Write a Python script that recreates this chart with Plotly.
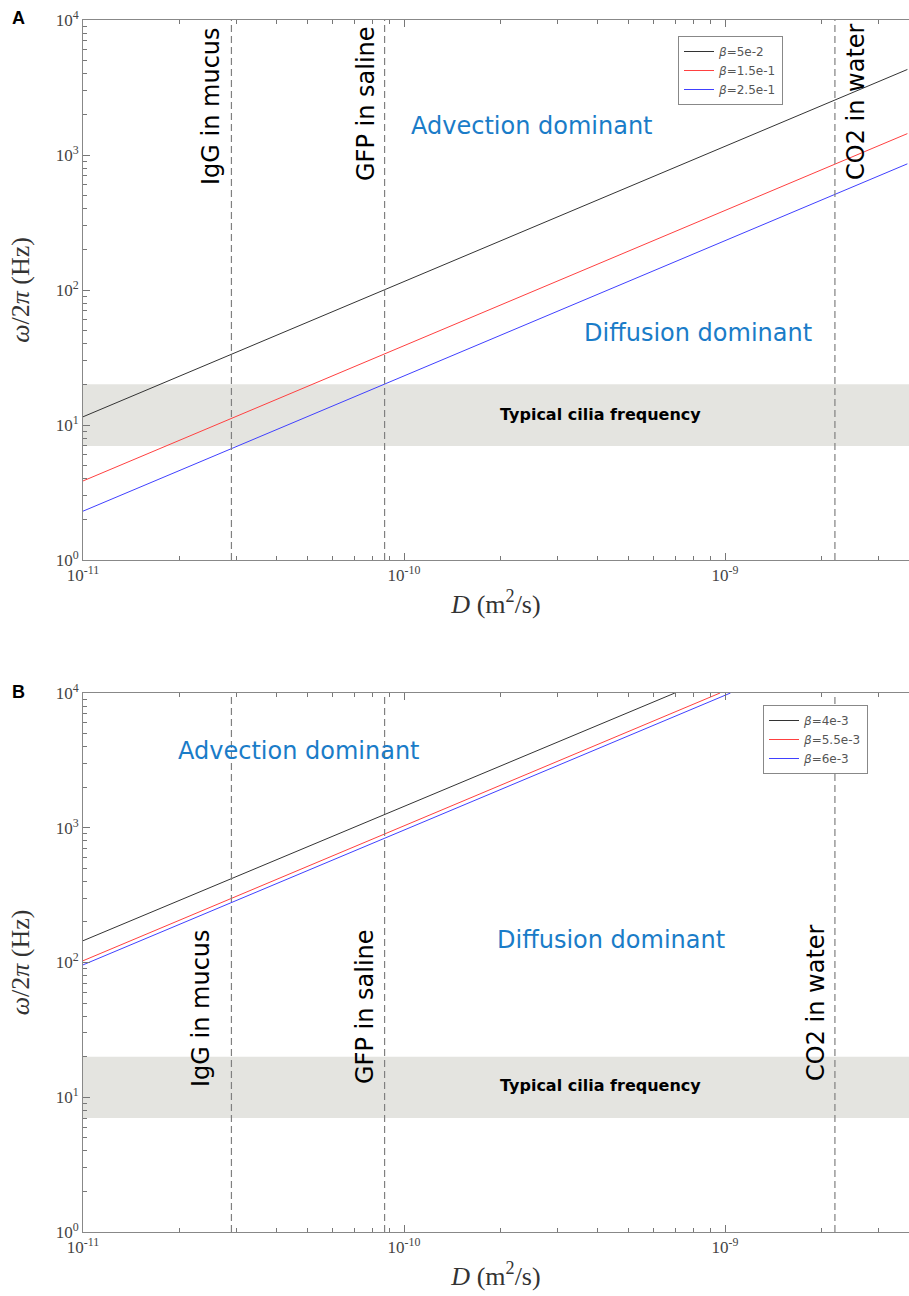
import plotly.graph_objects as go

W, H = 909, 1296

# ---------------- data ----------------
# Panel A: diffusion coefficient endpoints and frequency endpoints
D_A = [1e-11, 3.7e-9]
omega_A_black = [11.5, 4300]     # beta = 5e-2
omega_A_red = [3.85, 1440]       # beta = 1.5e-1
omega_A_blue = [2.3, 860]        # beta = 2.5e-1
labels_A = ["<i>β</i>=5e-2", "<i>β</i>=1.5e-1", "<i>β</i>=2.5e-1"]

# Panel B (lines leave the plot at 10^4)
D_B_black = [1e-11, 6.98e-10]
omega_B_black = [145, 1e4]       # beta = 4e-3
D_B_red = [1e-11, 9.65e-10]
omega_B_red = [103, 1e4]         # beta = 5.5e-3
D_B_blue = [1e-11, 1.04e-9]
omega_B_blue = [96, 1e4]         # beta = 6e-3
labels_B = ["<i>β</i>=4e-3", "<i>β</i>=5.5e-3", "<i>β</i>=6e-3"]

# reference diffusion coefficients
ref_names = ["IgG in mucus", "GFP in saline", "CO2 in water"]
ref_D = [2.9e-11, 8.7e-11, 2.2e-9]

# typical cilia frequency band (Hz)
cilia_band = [7, 20]

x_tickvals = [1e-11, 1e-10, 1e-9]
x_ticktext = ["10<sup>-11</sup>", "10<sup>-10</sup>", "10<sup>-9</sup>"]
y_tickvals = [1, 10, 100, 1000, 10000]
y_ticktext = ["10<sup>0</sup>", "10<sup>1</sup>", "10<sup>2</sup>", "10<sup>3</sup>", "10<sup>4</sup>"]

# ---------------- layout helpers ----------------
def px(x):
    return x / W

def py(y):
    return 1 - y / H

left, right = 83, 909
A_top, A_bot = 20, 560
B_top, B_bot = 693, 1232

line_colors = ["#333333", "#ff4040", "#4040ff"]

fig = go.Figure()

for ys, c, lab in zip([omega_A_black, omega_A_red, omega_A_blue], line_colors, labels_A):
    fig.add_trace(go.Scatter(x=D_A, y=ys, mode="lines", line=dict(color=c, width=1),
                             name=lab, xaxis="x", yaxis="y", legend="legend"))
for xs, ys, c, lab in zip([D_B_black, D_B_red, D_B_blue],
                          [omega_B_black, omega_B_red, omega_B_blue], line_colors, labels_B):
    fig.add_trace(go.Scatter(x=xs, y=ys, mode="lines", line=dict(color=c, width=1),
                             name=lab, xaxis="x2", yaxis="y2", legend="legend2"))

serif = "Liberation Serif"
sans = "DejaVu Sans"

def xaxis_cfg(anchor):
    return dict(
        type="log", domain=[px(left), px(right)], anchor=anchor,
        range=[-11, -11 + (right - left) / 321.0],
        tickvals=x_tickvals, ticktext=x_ticktext,
        ticks="inside", ticklen=7, tickcolor="#777",
        minor=dict(ticks="inside", ticklen=4, tickcolor="#777", dtick="D1", showgrid=False),
        showline=True, linecolor="#888", linewidth=1, mirror="allticks",
        showgrid=False, zeroline=False, automargin=False,
        tickfont=dict(family=serif, size=17, color="#444"),
        title=dict(text="<i>D</i> (m<sup>2</sup>/s)", font=dict(family=serif, size=26, color="#333"),
                   standoff=10),
    )

def yaxis_cfg(anchor, top, bot):
    return dict(
        type="log", domain=[py(bot), py(top)], anchor=anchor,
        range=[0, 4],
        tickvals=y_tickvals, ticktext=y_ticktext,
        ticks="inside", ticklen=7, tickcolor="#777",
        minor=dict(ticks="inside", ticklen=4, tickcolor="#777", dtick="D1", showgrid=False),
        showline=True, linecolor="#888", linewidth=1, mirror=False,
        showgrid=False, zeroline=False, automargin=False,
        tickfont=dict(family=serif, size=17, color="#444"),
        title=dict(text="<i>ω</i>/2<i>π</i> (Hz)", font=dict(family=serif, size=26, color="#333"),
                   standoff=18),
    )

shapes = []
annotations = []
for xr, yr in [("x", "y"), ("x2", "y2")]:
    shapes.append(dict(type="rect", xref=xr + " domain", yref=yr, x0=0, x1=1,
                       y0=cilia_band[0], y1=cilia_band[1], fillcolor="#e4e4e0",
                       line=dict(width=0), layer="below"))
    for d in ref_D:
        shapes.append(dict(type="line", xref=xr, yref=yr + " domain", x0=d, x1=d, y0=0, y1=1,
                           line=dict(color="#808080", width=1.2, dash="7px,4px"), layer="above"))

def txt(text, x, y, size, color="black", angle=0, bold=False, family=sans):
    annotations.append(dict(text=("<b>%s</b>" % text) if bold else text,
                            x=px(x), y=py(y), xref="paper", yref="paper",
                            showarrow=False, textangle=angle, xanchor="center", yanchor="middle",
                            font=dict(family=family, size=size, color=color)))

blue_txt = "#1a7cc8"
# Panel A texts
txt("IgG in mucus", 211, 106, 24, angle=-90)
txt("GFP in saline", 366, 104, 24, angle=-90)
txt("CO2 in water", 856, 102, 24, angle=-90)
txt("Advection dominant", 532, 126, 24, blue_txt)
txt("Diffusion dominant", 698, 333, 24, blue_txt)
txt("Typical cilia frequency", 600, 415, 16, bold=True)
# Panel B texts
txt("IgG in mucus", 201, 1008, 24, angle=-90)
txt("GFP in saline", 365, 1007, 24, angle=-90)
txt("CO2 in water", 816, 1003, 24, angle=-90)
txt("Advection dominant", 299, 751, 24, blue_txt)
txt("Diffusion dominant", 611, 940, 24, blue_txt)
txt("Typical cilia frequency", 600, 1085, 16, bold=True)
# Panel letters
txt("A", 18, 18, 18, bold=True, family="Liberation Sans")
txt("B", 18, 692, 18, bold=True, family="Liberation Sans")

legend_common = dict(bgcolor="white", bordercolor="#888", borderwidth=1,
                     font=dict(family=sans, size=12, color="#555"),
                     xanchor="left", yanchor="top", tracegroupgap=0, itemwidth=30)

fig.update_layout(
    width=W, height=H,
    margin=dict(l=0, r=0, t=0, b=0, autoexpand=False),
    paper_bgcolor="white", plot_bgcolor="white",
    xaxis=xaxis_cfg("y"), yaxis=yaxis_cfg("x", A_top, A_bot),
    xaxis2=xaxis_cfg("y2"), yaxis2=yaxis_cfg("x2", B_top, B_bot),
    shapes=shapes, annotations=annotations,
    legend=dict(x=px(678), y=py(36), **legend_common),
    legend2=dict(x=px(763), y=py(705), **legend_common),
    showlegend=True,
)

fig.write_html("out.html")
